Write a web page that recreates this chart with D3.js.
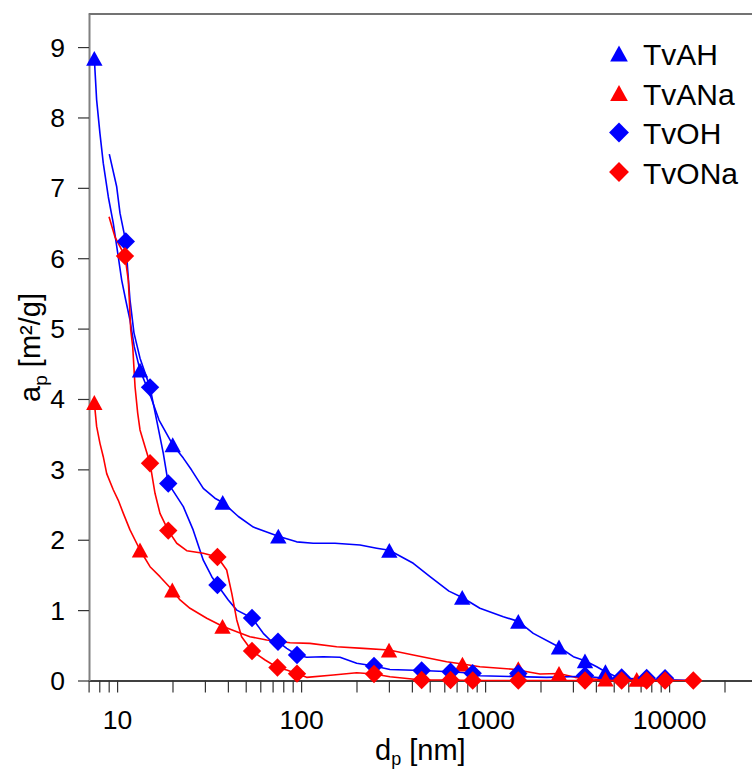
<!DOCTYPE html>
<html>
<head>
<meta charset="utf-8">
<script src="https://cdn.jsdelivr.net/npm/d3@7"></script>
<style>
  body { margin: 0; background: #fff; }
  svg { display: block; }
</style>
</head>
<body>
<div id="chart"></div>
<script>
// ---- data (pore diameter d_p in nm, specific area a_p in m2/g) ----
const seriesNames = ['TvAH', 'TvANa', 'TvOH', 'TvONa'];
const xTickLabels = [10, 100, 1000, 10000];
const yTicks = [0, 1, 2, 3, 4, 5, 6, 7, 8, 9];

// measured curves, [d_p, a_p]
const tvahLine = [[7.52, 8.84], [7.74, 8.25], [8.07, 7.77], [8.41, 7.35], [8.96, 6.87], [9.53, 6.50],
  [10.15, 6.02], [10.59, 5.69], [11.13, 5.41], [11.75, 5.12], [12.40, 4.74], [13.32, 4.41], [15.1, 4.06],
  [16.9, 3.70], [20.05, 3.35], [22.9, 3.16], [25.4, 2.99], [29.4, 2.73], [34.0, 2.59], [37.5, 2.53],
  [45.6, 2.33], [55.0, 2.18], [65.0, 2.11], [75.2, 2.05], [94.6, 1.97], [116.4, 1.95], [152.8, 1.95],
  [209, 1.925], [257.6, 1.88], [301.6, 1.85], [407, 1.665], [502, 1.475], [636, 1.27], [751, 1.18],
  [937, 1.026], [1256, 0.906], [1515, 0.84], [1827, 0.67], [2521, 0.476], [3016, 0.338], [3490, 0.28],
  [4042, 0.196], [4508, 0.125], [5404, 0.03], [6388, 0]];
const tvanaLine = [[7.52, 3.95], [7.74, 3.61], [8.07, 3.37], [8.41, 3.18], [8.78, 2.94], [9.53, 2.71],
  [10.15, 2.56], [10.81, 2.375], [11.75, 2.14], [13.32, 1.854], [15.1, 1.617], [17.1, 1.475], [19.95, 1.286],
  [21.98, 1.144], [24.9, 1.026], [30.7, 0.884], [37.4, 0.77], [44.7, 0.693], [52.7, 0.622], [65.0, 0.575],
  [87.1, 0.537], [111.7, 0.528], [156, 0.48], [217.6, 0.457], [300.5, 0.433], [407, 0.362], [618, 0.267],
  [753, 0.234], [937, 0.196], [1422, 0.16], [1986, 0.092], [2521, 0.10], [3080, 0.045], [4042, 0.017],
  [4508, 0.02], [6668, 0.017], [7870, 0]];
const tvohLine = [[9.07, 7.48], [9.95, 7.015], [10.37, 6.64], [11.15, 6.237], [11.42, 5.83], [11.75, 5.41],
  [12.35, 4.94], [13.32, 4.58], [15.1, 4.165], [15.8, 3.91], [16.4, 3.70], [17.82, 3.23], [18.97, 2.80],
  [22.9, 2.47], [25.9, 2.14], [29.4, 1.71], [32.7, 1.475], [35.1, 1.357], [40.2, 1.144], [44.7, 1.0],
  [54.1, 0.888], [62.3, 0.67], [67.8, 0.575], [74.9, 0.551], [83.5, 0.457], [95.0, 0.362], [107.2, 0.33],
  [132.1, 0.338], [162.7, 0.33], [200.5, 0.244], [249, 0.206], [304, 0.156], [452, 0.142], [649, 0.125],
  [856, 0.102], [937, 0.068], [2163, 0.045], [3490, 0.06], [4977, 0.02], [5520, 0.03], [13540, 0]];
const tvonaLine = [[9.04, 6.59], [9.74, 6.30], [11.04, 6.03], [11.5, 5.69], [11.65, 5.41], [11.86, 4.98],
  [12.16, 4.74], [12.52, 4.17], [12.94, 3.80], [13.32, 3.56], [14.18, 3.32], [15.1, 3.086], [16.07, 2.66],
  [17.1, 2.375], [18.97, 2.13], [21.09, 1.95], [23.9, 1.844], [29.4, 1.807], [35.1, 1.754], [39.4, 1.57],
  [42.0, 1.239], [44.7, 0.86], [47.5, 0.622], [54.1, 0.419], [63.7, 0.291], [74.4, 0.185], [83.5, 0.149],
  [95.0, 0.097], [107.2, 0.045], [149.6, 0.078], [200.5, 0.111], [249, 0.092], [304, 0.054], [452, 0.007],
  [649, 0.007], [856, 0], [13540, 0]];

// marked points
const tvahMarks = [[7.52, 8.84], [13.32, 4.41], [20.05, 3.35], [37.5, 2.53], [75.2, 2.05], [301.6, 1.85],
  [751, 1.18], [1515, 0.84], [2521, 0.476], [3490, 0.28], [4508, 0.125]];
const tvanaMarks = [[7.52, 3.95], [13.32, 1.854], [19.95, 1.286], [37.4, 0.77], [300.5, 0.433], [753, 0.234],
  [1515, 0.17], [2521, 0.10], [4508, 0.02], [6668, 0.017]];
const tvohMarks = [[11.15, 6.237], [15.1, 4.165], [18.97, 2.80], [35.1, 1.357], [54.1, 0.888], [74.9, 0.551],
  [95.0, 0.362], [249, 0.206], [452, 0.142], [649, 0.125], [856, 0.102], [1515, 0.10], [3490, 0.071],
  [5520, 0.043], [7551, 0.036], [9506, 0.031]];
const tvonaMarks = [[11.04, 6.03], [15.1, 3.086], [18.97, 2.13], [35.1, 1.754], [54.1, 0.419], [74.4, 0.185],
  [95.0, 0.097], [249, 0.092], [452, 0.007], [649, 0.007], [856, 0], [1515, 0], [3490, 0], [5520, 0],
  [7551, 0], [9506, 0], [13540, 0]];

const FONT = '"Liberation Sans", Arial, Helvetica, sans-serif';
const width = 752, height = 769;

const series = [
  {name: seriesNames[0], line: tvahLine, marks: tvahMarks, color: '#0000ff', shape: 'tri'},
  {name: seriesNames[1], line: tvanaLine, marks: tvanaMarks, color: '#ff0000', shape: 'tri'},
  {name: seriesNames[2], line: tvohLine, marks: tvohMarks, color: '#0000ff', shape: 'dia'},
  {name: seriesNames[3], line: tvonaLine, marks: tvonaMarks, color: '#ff0000', shape: 'dia'}
];

const x = d3.scaleLog().domain([7, 30000]).range([88.6, 756.9]);
const y = d3.scaleLinear().domain([0, 9.47]).range([680.5, 14]);

function shapePath(shape, s) {
  // s = scale factor, shapes centred on their bounding box
  if (shape === 'tri') {
    const w = 8.2 * s, h = 7.4 * s;
    return `M0,${-h}L${w},${h}L${-w},${h}Z`;
  }
  const r = 9.2 * s;
  return `M0,${-r}L${r},0L0,${r}L${-r},0Z`;
}

const svg = d3.select('#chart').append('svg')
  .attr('width', width)
  .attr('height', height)
  .attr('font-family', FONT);

// top frame line
svg.append('line')
  .attr('x1', x(7)).attr('x2', width)
  .attr('y1', y(9.47)).attr('y2', y(9.47))
  .attr('stroke', '#444').attr('stroke-width', 1.3);

// x axis (log)
const xAxis = d3.axisBottom(x)
  .tickValues(x.ticks())
  .tickSize(12)
  .tickSizeOuter(0)
  .tickFormat(v => xTickLabels.includes(v) ? String(v) : '');
const gx = svg.append('g')
  .attr('transform', `translate(0,${y(0)})`)
  .call(xAxis)
  .attr('font-family', FONT);
gx.select('.domain').attr('stroke', '#000').attr('stroke-width', 1.6);
gx.selectAll('.tick line').attr('stroke', '#333').attr('stroke-width', 1.2);
gx.selectAll('.tick text')
  .attr('font-size', 26.5).attr('fill', '#000')
  .attr('y', 48.5).attr('dy', 0);

// y axis
const yAxis = d3.axisLeft(y)
  .tickValues(yTicks)
  .tickSize(11)
  .tickSizeOuter(0)
  .tickPadding(13);
const gy = svg.append('g')
  .attr('transform', `translate(${x(7) + 0.4},0)`)
  .call(yAxis)
  .attr('font-family', FONT);
gy.select('.domain').attr('stroke', '#808080').attr('stroke-width', 2);
gy.selectAll('.tick line').attr('stroke', '#333').attr('stroke-width', 1.2);
gy.selectAll('.tick text').attr('font-size', 26.5).attr('fill', '#000').attr('dy', '0.34em');

// curves
const line = d3.line()
  .x(d => x(d[0]))
  .y(d => y(d[1]));

svg.append('g').selectAll('path')
  .data(series)
  .join('path')
  .attr('d', d => line(d.line))
  .attr('fill', 'none')
  .attr('stroke', d => d.color)
  .attr('stroke-width', 1.6)
  .attr('stroke-linejoin', 'round');

// markers
series.forEach(s => {
  svg.append('g').selectAll('path')
    .data(s.marks)
    .join('path')
    .attr('transform', d => `translate(${x(d[0])},${y(d[1])})`)
    .attr('d', shapePath(s.shape, 1))
    .attr('fill', s.color);
});

// legend
const legend = svg.append('g').attr('transform', 'translate(619,65)');
const rows = legend.selectAll('g')
  .data(series)
  .join('g')
  .attr('transform', (d, i) => `translate(0,${i * 39.5})`);
rows.append('path')
  .attr('transform', 'translate(0,-11.5)')
  .attr('d', d => shapePath(d.shape, 1.08))
  .attr('fill', d => d.color);
rows.append('text')
  .attr('x', 24)
  .attr('font-size', 30)
  .attr('fill', '#000')
  .text(d => d.name);

// axis titles
const xt = svg.append('text')
  .attr('x', 375).attr('y', 760)
  .attr('font-size', 29).attr('fill', '#000');
xt.append('tspan').text('d');
xt.append('tspan').attr('font-size', 18).attr('dy', 4.5).text('p');
xt.append('tspan').attr('dy', -4.5).text(' [nm]');

const yt = svg.append('text')
  .attr('transform', 'translate(39.5,347.5) rotate(-90)')
  .attr('text-anchor', 'middle')
  .attr('font-size', 29).attr('fill', '#000');
yt.append('tspan').text('a');
yt.append('tspan').attr('font-size', 19).attr('dy', 7).text('p');
yt.append('tspan').attr('dy', -7).text(' [m²/g]');
</script>
</body>
</html>
